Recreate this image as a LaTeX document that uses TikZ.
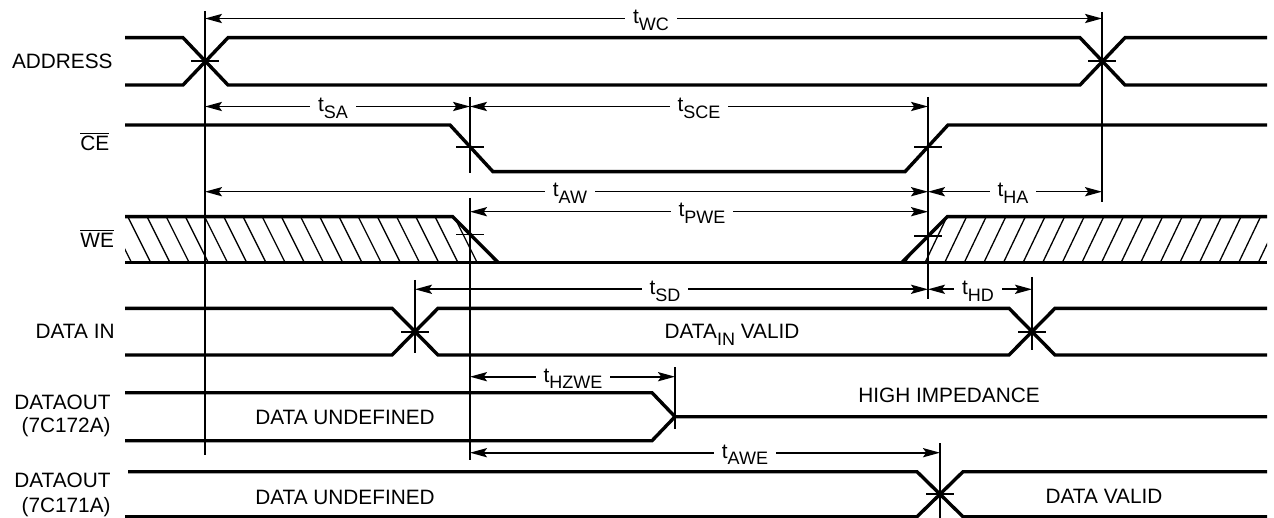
\documentclass[tikz,border=0pt]{standalone}
\usepackage{fontspec}
\setmainfont{Liberation Sans}
\usetikzlibrary{arrows.meta}
\newcommand\tsub[1]{t\raisebox{-0.6ex}{\fontsize{9}{10}\selectfont #1}}
\begin{document}
\begin{tikzpicture}[x=0.5pt,y=-0.5pt,
  sig/.style={line width=1.7pt},
  thin/.style={line width=0.8pt},
  tip/.tip={Stealth[length=8.5pt,width=4.6pt,inset=1.6pt]},
  dim/.style={line width=0.8pt,tip-tip},
  hatchline/.style={line width=0.65pt},
  lbl/.style={font=\fontsize{10.4}{12}\selectfont, inner sep=0pt},
  tlbl/.style={font=\fontsize{10.4}{12}\selectfont, fill=white, inner xsep=4pt, inner ysep=1pt, anchor=base},
]
\useasboundingbox (0,0) rectangle (1274,518);

% ---------- hatching of WE ----------
\begin{scope}
  \clip (125,216.7) -- (452.7,216.7) -- (498.3,262.7) -- (125,262.7) -- cycle;
  \foreach \k in {-2,...,19} {
    \draw[hatchline] ({147+19.2*\k},216.7) -- ({170+19.2*\k},262.7);
  }
\end{scope}
\begin{scope}
  \clip (947.3,216.7) -- (1267,216.7) -- (1267,262.7) -- (901.7,262.7) -- cycle;
  \foreach \k in {-2,...,18} {
    \draw[hatchline] ({925+19.6*\k},262.7) -- ({947+19.6*\k},216.7);
  }
\end{scope}

% ---------- signals ----------
% ADDRESS
\draw[sig] (125,37.7) -- (183,37.7) -- (228,85) -- (1080,85) -- (1125,37.7) -- (1267,37.7);
\draw[sig] (125,85) -- (183,85) -- (228,37.7) -- (1080,37.7) -- (1125,85) -- (1267,85);
% CE
\draw[sig] (125,125) -- (450,125) -- (493,171.7) -- (905,171.7) -- (948,125) -- (1267,125);
% WE
\draw[sig] (125,216.7) -- (452.7,216.7) -- (498.3,262.7);
\draw[sig] (901.7,262.7) -- (947.3,216.7) -- (1267,216.7);
\draw[sig] (125,262.7) -- (1267,262.7);
% DATA IN
\draw[sig] (125,308.3) -- (392,308.3) -- (438,355) -- (1009,355) -- (1055,308.3) -- (1267,308.3);
\draw[sig] (125,355) -- (392,355) -- (438,308.3) -- (1009,308.3) -- (1055,355) -- (1267,355);
% DATAOUT 7C172A
\draw[sig] (125,392.7) -- (652,392.7) -- (675,416.7) -- (1267,416.7);
\draw[sig] (125,440.7) -- (652,440.7) -- (675,416.7);
% DATAOUT 7C171A
\draw[sig] (128,471.7) -- (917,471.7) -- (963,516.7) -- (1267,516.7);
\draw[sig] (125,516.7) -- (917,516.7) -- (963,471.7) -- (1267,471.7);

% ---------- crossing ticks ----------
\draw[thin] (191,61.3) -- (219,61.3);
\draw[thin] (1088,61.3) -- (1116,61.3);
\draw[thin] (456,147) -- (484,147);
\draw[thin] (914,147) -- (942,147);
\draw[thin] (456,234.5) -- (484,234.5);
\draw[thin] (914,236) -- (942,236);
\draw[thin] (401,331.7) -- (429,331.7);
\draw[thin] (1018,331.7) -- (1046,331.7);
\draw[thin] (926,494.2) -- (954,494.2);

% ---------- reference verticals ----------
\draw[thin] (205,11) -- (205,455);
\draw[thin] (470,97) -- (470,173);
\draw[thin] (470,198) -- (470,460);
\draw[thin] (928,97) -- (928,299);
\draw[thin] (1102,12) -- (1102,202);
\draw[thin] (415,280) -- (415,353);
\draw[thin] (1032,277) -- (1032,350);
\draw[thin] (675,367) -- (675,429);
\draw[thin] (940,443) -- (940,518);

% ---------- dimension arrows ----------
\draw[dim] (205,18.5) -- (1102,18.5);
\node[tlbl] (lWC) at (651,23.8) {\tsub{WC}};
\draw[dim] (205,106.5) -- (470,106.5);
\node[tlbl] (lSA) at (333,112) {\tsub{SA}};
\draw[dim] (470,106.5) -- (928,106.5);
\node[tlbl] (lSCE) at (699,112) {\tsub{SCE}};
\draw[dim] (205,191.7) -- (928,191.7);
\node[tlbl] (lAW) at (570,197) {\tsub{AW}};
\draw[dim] (928,191.7) -- (1102,191.7);
\node[tlbl] (lHA) at (1013,197) {\tsub{HA}};
\draw[dim] (470,211.7) -- (928,211.7);
\node[tlbl] (lPWE) at (702,217) {\tsub{PWE}};
\draw[dim] (415,289.3) -- (928,289.3);
\node[tlbl] (lSD) at (665,294.6) {\tsub{SD}};
\draw[dim] (928,289.3) -- (1032,289.3);
\node[tlbl] (lHD) at (978,294.6) {\tsub{HD}};
\draw[dim] (470,376.7) -- (675,376.7);
\node[tlbl] (lHZWE) at (573,382) {\tsub{HZWE}};
\draw[dim] (470,452.7) -- (940,452.7);
\node[tlbl] (lAWE) at (745,458) {\tsub{AWE}};

% ---------- signal names ----------
\node[lbl, anchor=base east] (nAddr) at (113,69) {ADDRESS};
\node[lbl, anchor=base west] (nCE) at (80,150.8) {$\overline{\mbox{CE}}$};
\node[lbl, anchor=base west] (nWE) at (80,248) {$\overline{\mbox{WE}}$};
\node[lbl, anchor=base east] (nDin) at (115,338.5) {DATA IN};
\node[lbl, anchor=base east] (nDo1a) at (111,409) {DATAOUT};
\node[lbl, anchor=base east] (nDo1b) at (111,432.5) {(7C172A)};
\node[lbl, anchor=base east] (nDo2a) at (111,487.5) {DATAOUT};
\node[lbl, anchor=base east] (nDo2b) at (111,512.5) {(7C171A)};

% ---------- state texts ----------
\node[lbl, anchor=base] (sDinV) at (732,338.5) {DATA\raisebox{-0.6ex}{\fontsize{9}{10}\selectfont IN} VALID};
\node[lbl, anchor=base] (sUnd1) at (345,424.8) {DATA UNDEFINED};
\node[lbl, anchor=base] (sHiZ) at (949,402.5) {HIGH IMPEDANCE};
\node[lbl, anchor=base] (sUnd2) at (345,504.2) {DATA UNDEFINED};
\node[lbl, anchor=base] (sValid) at (1104,503.5) {DATA VALID};
\end{tikzpicture}
\end{document}
